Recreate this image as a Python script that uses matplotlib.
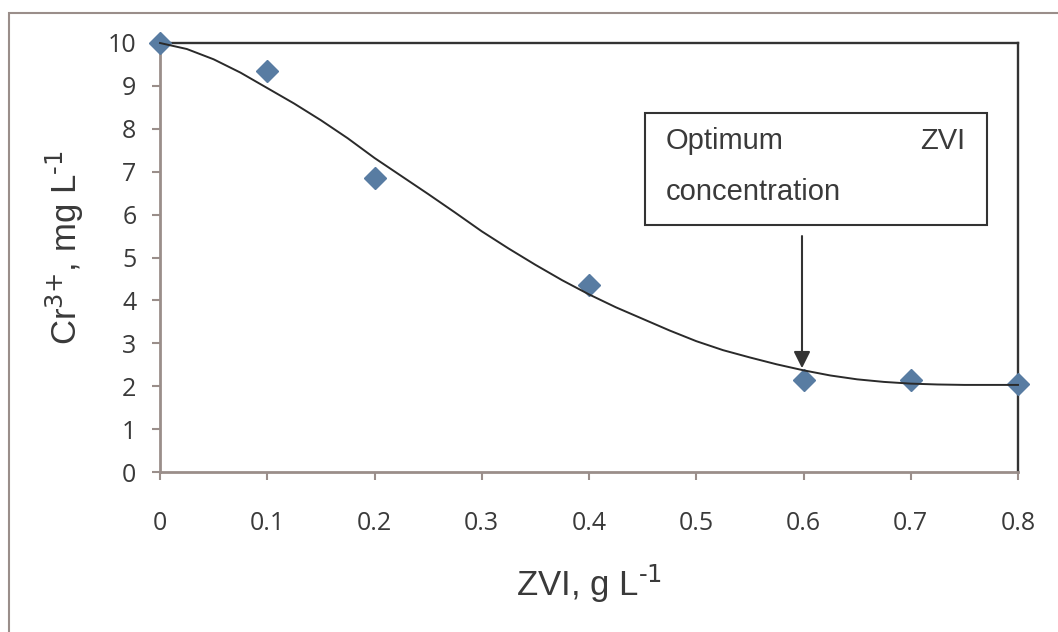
import matplotlib
matplotlib.use("Agg")
import matplotlib.pyplot as plt
from matplotlib.patches import Rectangle

plt.rcParams['mathtext.default'] = 'regular'

# measured Cr(III) remaining vs. ZVI dose
zvi_dose = [0, 0.1, 0.2, 0.4, 0.6, 0.7, 0.8]
cr3_conc = [10.0, 9.35, 6.86, 4.36, 2.14, 2.14, 2.04]

# fitted curve drawn through the measurements
fit_x = [0, 0.025, 0.05, 0.075, 0.1, 0.125, 0.15, 0.175, 0.2, 0.225, 0.25,
         0.275, 0.3, 0.325, 0.35, 0.375, 0.4, 0.425, 0.45, 0.475, 0.5,
         0.525, 0.55, 0.575, 0.6, 0.625, 0.65, 0.675, 0.7, 0.725, 0.75, 0.8]
fit_y = [10.0, 9.86, 9.62, 9.31, 8.95, 8.59, 8.20, 7.78, 7.32, 6.90, 6.48,
         6.05, 5.61, 5.21, 4.83, 4.47, 4.14, 3.84, 3.57, 3.30, 3.05,
         2.84, 2.67, 2.51, 2.37, 2.25, 2.16, 2.10, 2.06, 2.04, 2.03, 2.03]

x_ticks = [0, 0.1, 0.2, 0.3, 0.4, 0.5, 0.6, 0.7, 0.8]
x_ticklabels = ['0', '0.1', '0.2', '0.3', '0.4', '0.5', '0.6', '0.7', '0.8']
y_ticks = list(range(0, 11))

W, H = 1058, 632
axis_col = '#9a8e8a'
frame_col = '#333333'
text_col = '#3a3a3a'

fig = plt.figure(figsize=(W / 100, H / 100), dpi=100)
ax = fig.add_axes([160 / W, 1 - 472 / H, 858 / W, 429 / H])

ax.plot(fit_x, fit_y, color='#2a2a2a', lw=1.4, zorder=5, clip_on=False)
ax.plot(zvi_dose, cr3_conc, ls='none', marker='D', ms=11.5,
        mfc='#587ca2', mec='#587ca2', zorder=4, clip_on=False)

ax.set_xlim(0, 0.8)
ax.set_ylim(0, 10)
ax.set_xticks(x_ticks)
ax.set_xticklabels(x_ticklabels)
ax.set_yticks(y_ticks)

for side in ['left', 'bottom']:
    ax.spines[side].set_color(axis_col)
    ax.spines[side].set_linewidth(2.0)
for side in ['top', 'right']:
    ax.spines[side].set_color(frame_col)
    ax.spines[side].set_linewidth(1.7)

ax.tick_params(axis='both', direction='out', length=6, width=1.5,
               color=axis_col, labelsize=18, labelcolor=text_col)
ax.tick_params(axis='y', pad=11)
ax.tick_params(axis='x', pad=22)
for lab in ax.get_xticklabels() + ax.get_yticklabels():
    lab.set_family(['Open Sans', 'DejaVu Sans'])

label_font = dict(fontsize=25, color=text_col,
                  family=['Liberation Sans', 'DejaVu Sans'])
fig.text(589 / W, 1 - 596 / H, r'ZVI, g L$^{\text{-1}}$', ha='center',
         va='baseline', **label_font)
fig.text(65 / W, 1 - 248 / H, r'Cr$^{\text{3+}}$, mg L$^{\text{-1}}$',
         ha='center', va='center', rotation=90, **label_font)

# call-out box and arrow for the optimum dose
box = Rectangle((0.452, 5.76), 0.319, 2.61, fill=False, ec=frame_col, lw=1.5,
                zorder=6)
ax.add_patch(box)
note_font = dict(fontsize=21, color=text_col,
                 family=['Liberation Sans', 'DejaVu Sans'], zorder=7)
ax.text(0.4714, 7.72, 'Optimum', ha='left', va='center', **note_font)
ax.text(0.7506, 7.72, 'ZVI', ha='right', va='center', **note_font)
ax.text(0.4714, 6.53, 'concentration', ha='left', va='center', **note_font)
ax.annotate('', xy=(0.5986, 2.42), xytext=(0.5986, 5.50),
            arrowprops=dict(arrowstyle='-|>', color=frame_col, lw=1.5,
                            mutation_scale=25, shrinkA=0, shrinkB=0),
            zorder=7)

# outer chart frame (open at right and bottom edges)
fig.add_artist(Rectangle((8.5 / W, -0.1), 1.2, 1.1 - 12.5 / H, fill=False,
                         ec=axis_col, lw=1.5, transform=fig.transFigure))

fig.savefig('out.png', dpi=100, facecolor='white')
